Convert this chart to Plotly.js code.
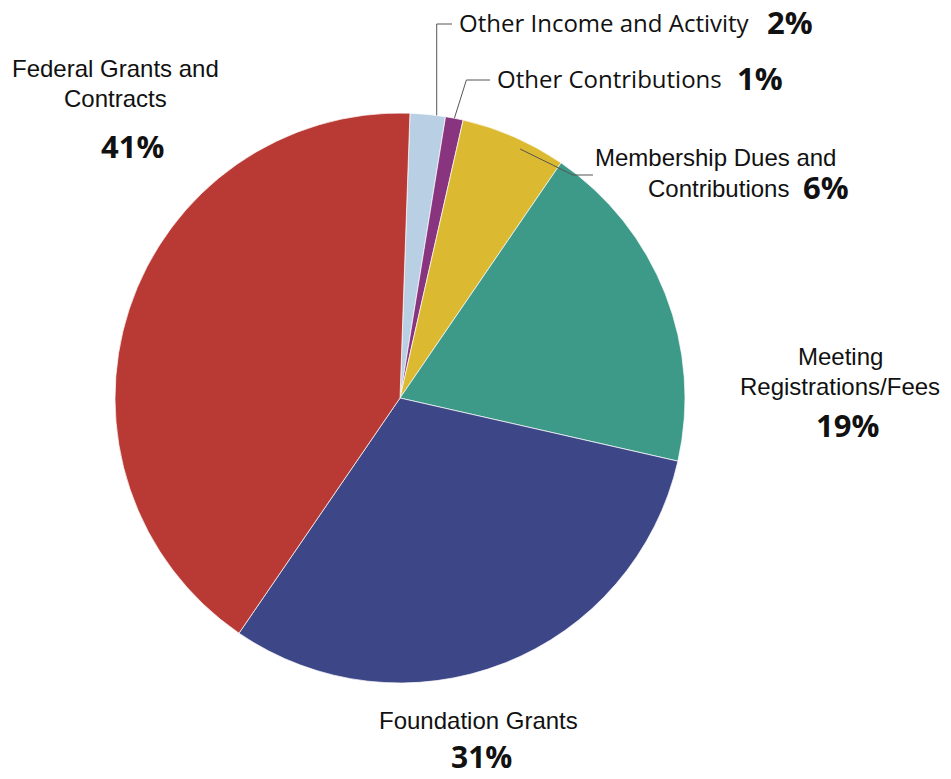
<!DOCTYPE html>
<html><head><meta charset="utf-8">
<script src="https://cdn.plot.ly/plotly-3.0.1.min.js"></script>
<style>html,body{margin:0;padding:0;background:#fff}#chart{width:951px;height:779px}</style>
</head><body><div id="chart"></div>
<script>
// ---- data ----
const categories = ["Other Income and Activity", "Other Contributions", "Membership Dues and Contributions", "Meeting Registrations/Fees", "Foundation Grants", "Federal Grants and Contracts"];
const percentages = [2, 1, 6, 19, 31, 41];
const sliceColors = ["#B9D0E4", "#88347E", "#DBB931", "#3E9A88", "#3D4787", "#B93A35"];

// ---- layout helpers ----
const W = 951, H = 779;
const CX = 400, CY = 398, R = 285;   // pie placement in pixels
const ROT = 2;
const px = x => x / W;
const py = y => 1 - y / H;
const total = percentages.reduce((a, b) => a + b, 0);

// point on slice i (angle fraction within slice t, radius fraction f)
function slicePoint(i, t, f) {
  let before = 0;
  for (let k = 0; k < i; k++) before += percentages[k];
  const frac = (before + percentages[i] * t) / total;
  const a = (ROT + 360 * frac) * Math.PI / 180;
  return [CX + R * f * Math.sin(a), CY - R * f * Math.cos(a)];
}

const labelFont = {family: "Liberation Sans, Arial, sans-serif", size: 24, color: "#111"};
const myriadFont = {family: "Open Sans, sans-serif", size: 24, color: "#111"};
const pctFont = {family: "Open Sans, sans-serif", size: 31, color: "#111", weight: 700};
const pctFontSm = {family: "Open Sans, sans-serif", size: 30, color: "#111", weight: 700};

function ann(text, x, y, font, xanchor, yanchor) {
  return {text: text, x: px(x), y: py(y), xref: "paper", yref: "paper",
          showarrow: false, font: font, xanchor: xanchor || "center", yanchor: yanchor || "middle", align: "center"};
}
const pct = i => percentages[i] + "%";

const annotations = [
  ann("Federal Grants and", 115, 68, labelFont),
  ann("Contracts", 115, 99, labelFont),
  ann(pct(5), 132, 146, pctFont),
  ann("Other Income and Activity", 457, 22, myriadFont, "left"),
  ann(pct(0), 790, 22, pctFont),
  ann("Other Contributions", 495, 78, myriadFont, "left"),
  ann(pct(1), 760, 78, pctFont),
  ann("Membership Dues and", 715, 157, labelFont),
  ann("Contributions", 791, 188, labelFont, "right"),
  ann(pct(2), 826, 187, pctFont),
  ann("Meeting", 840, 356, labelFont),
  ann("Registrations/Fees", 840, 386, labelFont),
  ann(pct(3), 847, 425, pctFont),
  ann("Foundation Grants", 478, 720, labelFont),
  ann(pct(4), 482, 779, pctFontSm, "center", "bottom")
];

function pathPx(points) {
  return points.map((p, k) => (k ? "L" : "M") + px(p[0]).toFixed(5) + "," + py(p[1]).toFixed(5)).join(" ");
}
const p0 = slicePoint(0, 0.75, 1.0);
const p1 = slicePoint(1, 0.5, 1.0);
const p2 = slicePoint(2, 0.6, 0.97);
const lineStyle = {color: "#555", width: 1};
const shapes = [
  {type: "path", xref: "paper", yref: "paper", path: pathPx([[452, 24], [p0[0], 24], [p0[0], p0[1]]]), line: lineStyle},
  {type: "path", xref: "paper", yref: "paper", path: pathPx([[490, 80], [p1[0] + 12, 80], [p1[0], p1[1]]]), line: lineStyle},
  {type: "path", xref: "paper", yref: "paper", path: pathPx([[593, 175], [573, 175], [p2[0], p2[1]]]), line: lineStyle}
];

const trace = {
  type: "pie",
  labels: categories,
  values: percentages,
  marker: {colors: sliceColors, line: {color: "rgba(255,255,255,0.7)", width: 1}},
  sort: false,
  direction: "clockwise",
  rotation: ROT,
  textinfo: "none",
  hoverinfo: "label+percent",
  showlegend: false,
  domain: {x: [px(CX - R), px(CX + R)], y: [py(CY + R), py(CY - R)]}
};

const layout = {
  width: W, height: H,
  margin: {l: 0, r: 0, t: 0, b: 0},
  paper_bgcolor: "#fff",
  showlegend: false,
  annotations: annotations,
  shapes: shapes
};

Plotly.newPlot("chart", [trace], layout, {displayModeBar: false, staticPlot: true});
</script>
</body></html>
